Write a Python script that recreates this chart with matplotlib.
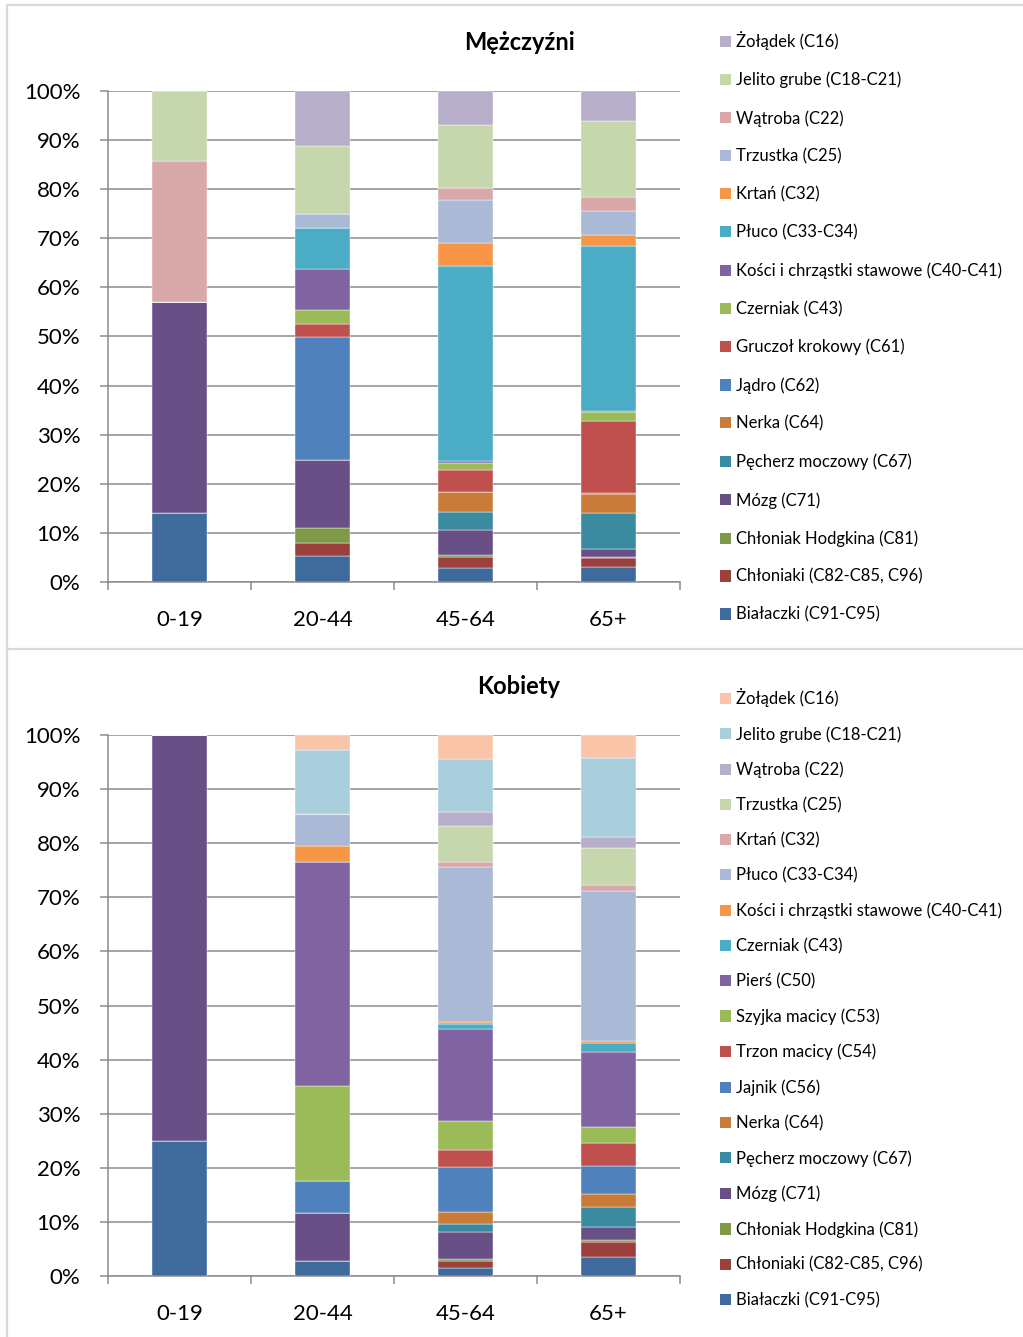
import matplotlib
matplotlib.use('Agg')
import matplotlib.pyplot as plt
from matplotlib.patches import Patch
from matplotlib.lines import Line2D
import numpy as np

plt.rcParams['font.family'] = ['Lato', 'DejaVu Sans']

AGE_GROUPS = ['0-19', '20-44', '45-64', '65+']

# ── Mężczyźni (stack order: bottom -> top), % per age group ──────────────
M_LABELS = ['Białaczki (C91-C95)', 'Chłoniaki (C82-C85, C96)', 'Chłoniak Hodgkina (C81)',
            'Mózg (C71)', 'Pęcherz moczowy (C67)', 'Nerka (C64)', 'Jądro (C62)',
            'Gruczoł krokowy (C61)', 'Czerniak (C43)', 'Kości i chrząstki stawowe (C40-C41)',
            'Płuco (C33-C34)', 'Krtań (C32)', 'Trzustka (C25)', 'Wątroba (C22)',
            'Jelito grube (C18-C21)', 'Żołądek (C16)']
bialaczki_m = [14.0, 5.3, 2.8, 3.1]
chloniaki_m = [0.0, 2.7, 2.2, 1.7]
hodgkin_m = [0.0, 2.9, 0.4, 0.2]
mozg_m = [43.0, 13.9, 5.1, 1.8]
pecherz_m = [0.0, 0.0, 3.7, 7.2]
nerka_m = [0.0, 0.0, 4.1, 3.9]
jadro_m = [0.0, 25.0, 0.1, 0.2]
gruczol_m = [0.0, 2.8, 4.5, 14.6]
czerniak_m = [0.0, 2.8, 1.3, 1.9]
kosci_m = [0.0, 8.4, 0.4, 0.2]
pluco_m = [0.0, 8.3, 39.8, 33.6]
krtan_m = [0.0, 0.0, 4.6, 2.3]
trzustka_m = [0.0, 2.8, 8.7, 4.9]
watroba_m = [28.7, 0.0, 2.6, 2.8]
jelito_m = [14.3, 14.0, 12.8, 15.5]
zoladek_m = [0.0, 11.1, 6.9, 6.1]
M_SERIES = [bialaczki_m, chloniaki_m, hodgkin_m, mozg_m, pecherz_m, nerka_m, jadro_m,
            gruczol_m, czerniak_m, kosci_m, pluco_m, krtan_m, trzustka_m, watroba_m,
            jelito_m, zoladek_m]
M_COLORS = ['#3F6A9C', '#9C403D', '#7E9A48', '#684F86', '#3B8BA0', '#C97C3A', '#4F81BD',
            '#C0504D', '#9BBB59', '#8064A2', '#4BACC6', '#F79646', '#A9B9D6', '#D8A9A8',
            '#C6D6AD', '#B7AEC9']

# ── Kobiety (stack order: bottom -> top) ─────────────────────────────────
K_LABELS = ['Białaczki (C91-C95)', 'Chłoniaki (C82-C85, C96)', 'Chłoniak Hodgkina (C81)',
            'Mózg (C71)', 'Pęcherz moczowy (C67)', 'Nerka (C64)', 'Jajnik (C56)',
            'Trzon macicy (C54)', 'Szyjka macicy (C53)', 'Pierś (C50)', 'Czerniak (C43)',
            'Kości i chrząstki stawowe (C40-C41)', 'Płuco (C33-C34)', 'Krtań (C32)',
            'Trzustka (C25)', 'Wątroba (C22)', 'Jelito grube (C18-C21)', 'Żołądek (C16)']
bialaczki_k = [25.0, 2.8, 1.5, 3.6]
chloniaki_k = [0.0, 0.0, 1.3, 2.6]
hodgkin_k = [0.0, 0.0, 0.4, 0.5]
mozg_k = [75.0, 8.8, 4.9, 2.4]
pecherz_k = [0.0, 0.0, 1.5, 3.7]
nerka_k = [0.0, 0.0, 2.2, 2.4]
jajnik_k = [0.0, 5.9, 8.4, 5.2]
trzon_k = [0.0, 0.0, 3.0, 4.1]
szyjka_k = [0.0, 17.7, 5.5, 3.0]
piers_k = [0.0, 41.3, 16.9, 13.9]
czerniak_k = [0.0, 0.0, 0.9, 1.6]
kosci_k = [0.0, 2.9, 0.4, 0.5]
pluco_k = [0.0, 6.0, 28.7, 27.6]
krtan_k = [0.0, 0.0, 0.9, 1.1]
trzustka_k = [0.0, 0.0, 6.7, 7.0]
watroba_k = [0.0, 0.0, 2.6, 1.9]
jelito_k = [0.0, 11.8, 9.8, 14.6]
zoladek_k = [0.0, 2.8, 4.4, 4.3]
K_SERIES = [bialaczki_k, chloniaki_k, hodgkin_k, mozg_k, pecherz_k, nerka_k, jajnik_k,
            trzon_k, szyjka_k, piers_k, czerniak_k, kosci_k, pluco_k, krtan_k,
            trzustka_k, watroba_k, jelito_k, zoladek_k]
K_COLORS = ['#3F6A9C', '#9C403D', '#7E9A48', '#684F86', '#3B8BA0', '#C97C3A', '#4F81BD',
            '#C0504D', '#9BBB59', '#8064A2', '#4BACC6', '#F79646', '#A9B9D6', '#D8A9A8',
            '#C6D6AD', '#B7AEC9', '#A9CEDC', '#F9C4A8']

GRID = '#8C8C8C'
W, H = 1023, 1337


def draw_panel(fig, rect, series, colors, labels, title, title_y, leg_top, leg_spacing):
    ax = fig.add_axes(rect)
    x = np.arange(len(AGE_GROUPS))
    bottom = np.zeros(len(AGE_GROUPS))
    for vals, col in zip(series, colors):
        vals = np.array(vals)
        ax.bar(x, vals, width=0.39, bottom=bottom, color=col, edgecolor='white',
               linewidth=0.3, zorder=3)
        bottom += vals

    ax.set_xlim(-0.5, len(AGE_GROUPS) - 0.5)
    ax.set_ylim(0, 100)
    ax.set_yticks(np.arange(0, 101, 10))
    ax.set_yticklabels(['%d%%' % v for v in range(0, 101, 10)], fontsize=16)
    ax.yaxis.grid(True, color=GRID, lw=1.1, zorder=0)
    ax.set_xticks(x)
    ax.set_xticklabels(AGE_GROUPS, fontsize=16)
    ax.set_xticks(np.arange(-0.5, len(AGE_GROUPS)), minor=True)
    ax.tick_params(axis='x', which='major', length=0, pad=20)
    ax.tick_params(axis='x', which='minor', length=6, width=1.1, color=GRID, direction='out')
    ax.tick_params(axis='y', length=6, width=1.1, color=GRID, pad=14)
    for s in ('top', 'right'):
        ax.spines[s].set_visible(False)
    for s in ('left', 'bottom'):
        ax.spines[s].set_color(GRID)
        ax.spines[s].set_linewidth(1.1)

    fig.text(519 / W, 1 - title_y / H, title, ha='center', va='center',
             fontsize=17, fontweight='bold')

    handles = [Patch(facecolor=c, edgecolor='none') for c in colors][::-1]
    fig.legend(handles, labels[::-1], loc='upper left',
               bbox_to_anchor=(720 / W, 1 - leg_top / H), frameon=False, fontsize=12,
               handlelength=0.65, handleheight=0.65, handletextpad=0.3,
               labelspacing=leg_spacing, borderaxespad=0, borderpad=0)
    return ax


fig = plt.figure(figsize=(W / 100, H / 100), dpi=100)

draw_panel(fig, [108 / W, 1 - 582 / H, 572 / W, 491 / H], M_SERIES, M_COLORS, M_LABELS,
           'Mężczyźni', 42, 31, 1.31)
draw_panel(fig, [108 / W, 1 - 1276 / H, 572 / W, 541 / H], K_SERIES, K_COLORS, K_LABELS,
           'Kobiety', 687, 688, 1.14)

# panel frames
frame = dict(color='#D9D9D9', lw=1.6, transform=fig.transFigure)
fig.add_artist(Line2D([7 / W, 7 / W], [0, 1 - 5 / H], **frame))
fig.add_artist(Line2D([7 / W, 1], [1 - 5 / H, 1 - 5 / H], **frame))
fig.add_artist(Line2D([7 / W, 1], [1 - 649 / H, 1 - 649 / H], **frame))

fig.savefig('out.png', dpi=100, facecolor='white')
